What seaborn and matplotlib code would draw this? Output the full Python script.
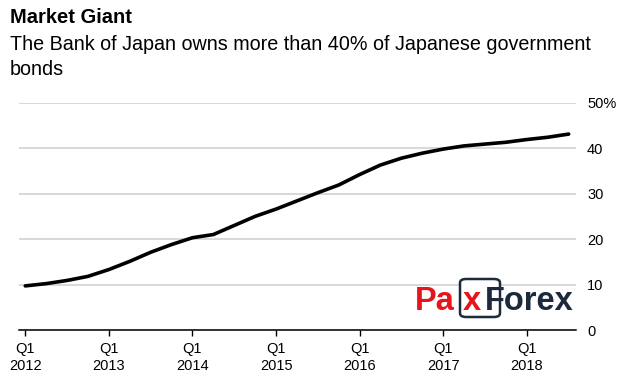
import matplotlib
matplotlib.use("Agg")
import matplotlib.pyplot as plt
import seaborn as sns
import pandas as pd
from matplotlib.patches import FancyBboxPatch

# ---- data ----
quarters = [f"Q{q} {y}" for y in range(2012, 2019) for q in range(1, 5)][:27]
boj_share = [9.7, 10.2, 10.9, 11.8, 13.3, 15.1, 17.1, 18.8, 20.3, 21.0, 23.0, 25.0,
             26.6, 28.4, 30.2, 31.9, 34.2, 36.3, 37.8, 38.9, 39.8, 40.5, 40.9, 41.3,
             41.9, 42.4, 43.1]
tick_positions = [0, 4, 8, 12, 16, 20, 24]
tick_labels = ["Q1\n2012", "Q1\n2013", "Q1\n2014", "Q1\n2015", "Q1\n2016", "Q1\n2017", "Q1\n2018"]
y_ticks = [0, 10, 20, 30, 40, 50]
y_labels = ["0", "10", "20", "30", "40", "50%"]

title = "Market Giant"
subtitle = "The Bank of Japan owns more than 40% of Japanese government\nbonds"

df = pd.DataFrame({"idx": range(len(boj_share)), "quarter": quarters, "share": boj_share})

sns.set_theme(style="white")
plt.rcParams["font.family"] = ["Liberation Sans", "DejaVu Sans"]

W, H = 628, 376
fig = plt.figure(figsize=(W / 100, H / 100), dpi=100)
ax = fig.add_axes([19 / W, 1 - 330 / H, (576 - 19) / W, (330 - 102.7) / H])

ax.yaxis.grid(True, color="#d6d6d6", linewidth=1.3)
ax.set_axisbelow(True)

sns.lineplot(data=df, x="idx", y="share", ax=ax, color="black", linewidth=2.6,
             solid_capstyle="round", zorder=5)

ax.set_xlim(-0.3, 26.35)
ax.set_ylim(0, 50)
ax.set_xticks(tick_positions)
ax.set_xticklabels(tick_labels, fontsize=10.5, color="black", linespacing=1.3)
ax.yaxis.tick_right()
ax.set_yticks(y_ticks)
ax.set_yticklabels(y_labels, fontsize=10.5, color="black")
ax.tick_params(axis="y", length=0, pad=8)
ax.tick_params(axis="x", length=4.5, width=1, color="black", direction="out", pad=4, bottom=True)
ax.set_xlabel("")
ax.set_ylabel("")
for s in ["top", "left", "right"]:
    ax.spines[s].set_visible(False)
ax.spines["bottom"].set_color("black")
ax.spines["bottom"].set_linewidth(1.1)
ax.spines["bottom"].set_zorder(6)

# titles
fig.text(10 / W, 1 - 8 / H, title, fontsize=14.5, fontweight="bold", ha="left", va="top", color="black")
fig.text(10 / W, 1 - 35 / H, subtitle, fontsize=14.2, ha="left", va="top", color="black", linespacing=1.38)

# watermark logo
red = "#e8141b"
navy = "#1d2a3d"
box = FancyBboxPatch((460 / W, 1 - 317 / H), 40 / W, 38 / H,
                     boxstyle="round,pad=0,rounding_size=0.01", transform=fig.transFigure,
                     facecolor="white", edgecolor=navy, linewidth=1.8, zorder=2)
fig.add_artist(box)
base = 1 - 310 / H
for txt, x0, col in [("Pa", 415, red), ("x", 463, red), ("Forex", 485, navy)]:
    fig.text(x0 / W, base, txt, fontsize=23.5, fontweight="bold", color=col,
             ha="left", va="baseline", zorder=3)

fig.savefig("out.png", dpi=100, facecolor="white")
